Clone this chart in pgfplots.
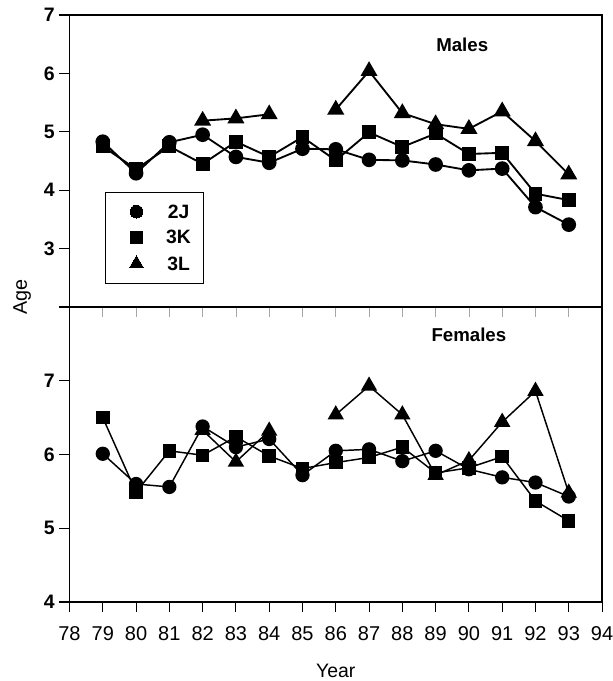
\documentclass[border=0pt]{standalone}
\usepackage{pgfplots}
\pgfplotsset{compat=1.18}
\usepackage{fontspec}
\setmainfont{Liberation Sans}
\pgfplotstableread{
x  a     b     c
79 4.83  4.75  nan
80 4.29  4.36  nan
81 4.82  4.75  nan
82 4.95  4.45  5.19
83 4.57  4.83  5.23
84 4.47  4.57  5.30
85 4.71  4.91  nan
86 4.70  4.51  5.38
87 4.52  4.99  6.04
88 4.51  4.74  5.32
89 4.44  4.97  5.13
90 4.34  4.62  5.05
91 4.37  4.64  5.35
92 3.71  3.94  4.84
93 3.41  3.83  4.27
}\males
\pgfplotstableread{
x  a     b     c
79 6.01  6.50  nan
80 5.60  5.49  nan
81 5.56  6.05  nan
82 6.38  5.99  6.33
83 6.10  6.24  5.90
84 6.21  5.98  6.32
85 5.72  5.81  nan
86 6.05  5.89  6.54
87 6.07  5.96  6.93
88 5.91  6.10  6.54
89 6.05  5.75  5.72
90 5.80  5.82  5.92
91 5.69  5.97  6.44
92 5.62  5.37  6.86
93 5.43  5.10  5.48
}\females
\pgfplotsset{
  panel/.style={
    scale only axis, width=399.4pt,
    xmin=78, xmax=94, xtick={78,...,94},
    axis line style={line width=1pt},
    tick style={line width=0.8pt, black},
    ytick pos=left, tick align=outside, major tick length=7.5pt,
    /pgf/number format/assume math mode=true,
    ticklabel style={font=\fontsize{15}{17}\selectfont},
    yticklabel style={font=\fontsize{14.6}{17}\selectfont\bfseries},
    unbounded coords=jump,
  },
  s2J/.style={black, line width=#1, mark=*, mark size=4.8pt, mark options={fill=black, solid}},
  s3K/.style={black, line width=#1, mark=square*, mark size=4.5pt, mark options={fill=black, solid}},
  s3L/.style={black, line width=#1, mark=triangle*, mark size=6pt, mark options={fill=black, solid}},
}
\begin{document}
\begin{tikzpicture}
\begin{axis}[panel, name=top, at={(0pt,221.25pt)}, anchor=south west,
  height=219pt, ymin=2, ymax=7, ytick={2,...,7}, yticklabels={{},3,4,5,6,7},
  xtick pos=bottom, xticklabels={},
  x tick style={line width=0.6pt, black!35}, x tick label style={opacity=0},
  legend style={at={(0.0667,0.394)}, anchor=north west, draw=black, line width=0.6pt,
    inner xsep=9.5pt, inner ysep=9.5pt, row sep=9pt, column sep=17pt,
    font=\fontsize{14.5}{16}\selectfont\bfseries,
    nodes={inner sep=0pt, text height=10pt, text depth=0pt}},
  legend cell align=center,
  legend image code/.code={\path (-13.5pt,0pt) (5pt,0pt); \draw[#1, line width=0pt] plot coordinates {(0pt,0pt)};},
]
\addplot[s2J=1.4pt, forget plot] table[x=x, y=a] {\males};
\addplot[s3K=1.4pt, forget plot] table[x=x, y=b] {\males};
\addplot[s3L=1.4pt, forget plot] table[x=x, y=c] {\males};
\addlegendimage{only marks, mark=*, mark size=4.8pt, fill=black}
\addlegendentry{2J}
\addlegendimage{only marks, mark=square*, mark size=4.5pt, fill=black}
\addlegendentry{3K}
\addlegendimage{only marks, mark=triangle*, mark size=6pt, fill=black}
\addlegendentry{3L}
\node[font=\fontsize{14}{16}\selectfont\bfseries] at (axis cs:89.8,6.49) {Males};
\end{axis}
\begin{axis}[panel, name=bot, at={(0pt,0pt)}, anchor=south west,
  height=221.25pt, ymin=4, ymax=8, ytick={4,...,7},
  xtick pos=bottom, x tick label style={yshift=-7pt},
  xlabel={Year}, xlabel style={font=\fontsize{14.6}{17}\selectfont, yshift=-11pt},
]
\addplot[s2J=1.1pt] table[x=x, y=a] {\females};
\addplot[s3K=1.1pt] table[x=x, y=b] {\females};
\addplot[s3L=1.1pt] table[x=x, y=c] {\females};
\node[font=\fontsize{14}{16}\selectfont\bfseries] at (axis cs:90.0,7.62) {Females};
\end{axis}
\node[rotate=90, font=\fontsize{14.8}{17}\selectfont] at (-35.6pt,228.75pt) {Age};
\pgfresetboundingbox
\useasboundingbox (-52.125pt,-59.25pt) rectangle (407.625pt,451.5pt);
\end{tikzpicture}
\end{document}
